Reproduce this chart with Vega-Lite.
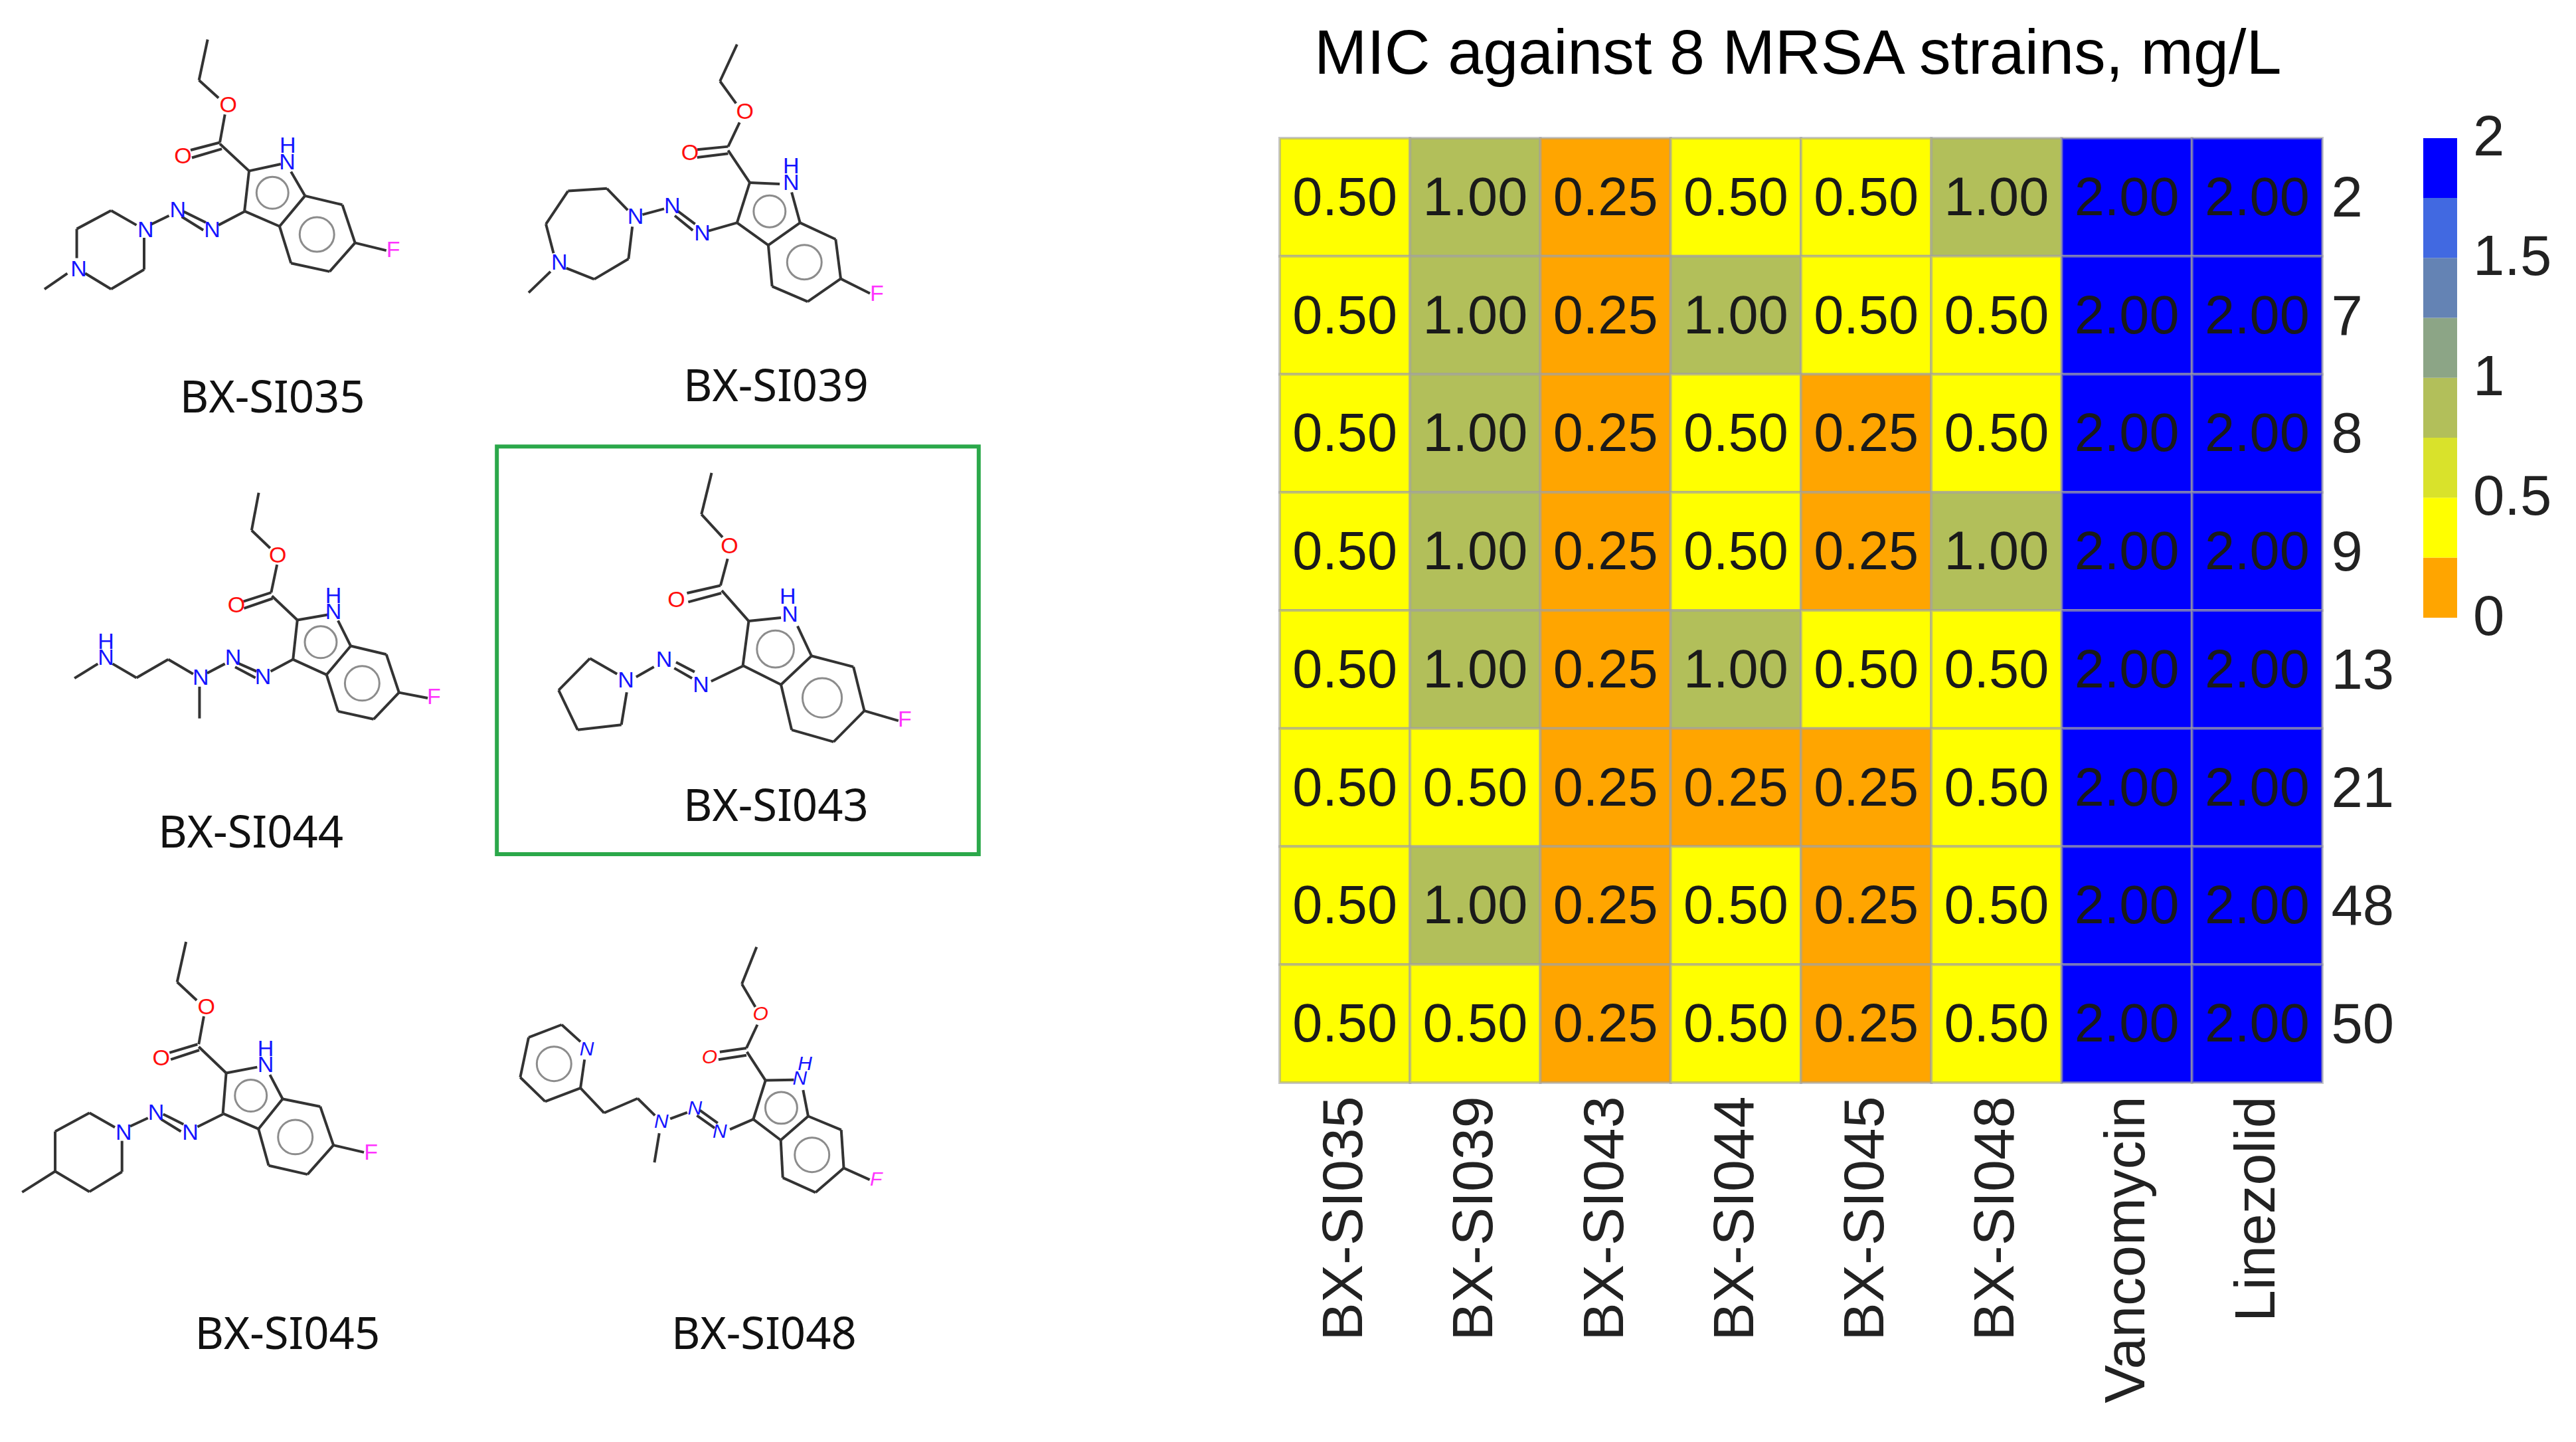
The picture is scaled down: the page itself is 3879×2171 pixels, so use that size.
{
"$schema":"https://vega.github.io/schema/vega-lite/v6.json",
"background":"white",
"padding":{"left":0,"top":34,"right":0,"bottom":0},
"spacing":0,
"config":{"view":{"stroke":null},"concat":{"spacing":0}},
"datasets":{
"bonds":[
{"x":817,"y":150,"x2":783,"y2":310},{"x":783,"y":310,"x2":860,"y2":380},{"x":885,"y":445,"x2":865,"y2":555},{"x":865,"y":555,"x2":750,"y2":585},{"x":873,"y":580,"x2":755,"y2":615},{"x":865,"y":560,"x2":980,"y2":667},{"x":980,"y":667,"x2":1105,"y2":640},{"x":1145,"y":670,"x2":1200,"y2":765},{"x":980,"y":667,"x2":962,"y2":825},{"x":962,"y":825,"x2":1100,"y2":885},{"x":1100,"y":885,"x2":1200,"y2":765},{"x":1200,"y":765,"x2":1347,"y2":800},{"x":1347,"y":800,"x2":1397,"y2":950},{"x":1397,"y":950,"x2":1297,"y2":1063},{"x":1297,"y":1063,"x2":1145,"y2":1030},{"x":1145,"y":1030,"x2":1100,"y2":885},{"x":1397,"y":950,"x2":1520,"y2":980},{"x":962,"y":827,"x2":860,"y2":880},{"x":723,"y":827,"x2":810,"y2":870},{"x":715,"y":847,"x2":800,"y2":900},{"x":665,"y":843,"x2":595,"y2":877},{"x":537,"y":880,"x2":437,"y2":823},{"x":437,"y":823,"x2":302,"y2":895},{"x":302,"y":895,"x2":302,"y2":1010},{"x":335,"y":1070,"x2":437,"y2":1132},{"x":437,"y":1132,"x2":567,"y2":1055},{"x":567,"y":1055,"x2":567,"y2":930},{"x":265,"y":1070,"x2":175,"y2":1132},
{"x":2900,"y":169,"x2":2833,"y2":314},{"x":2833,"y":314,"x2":2896,"y2":401},{"x":2910,"y":476,"x2":2865,"y2":571},{"x":2865,"y":571,"x2":2743,"y2":583},{"x":2865,"y":599,"x2":2743,"y2":614},{"x":2865,"y":586,"x2":2950,"y2":713},{"x":2950,"y":713,"x2":3068,"y2":718},{"x":3115,"y":751,"x2":3148,"y2":871},{"x":2950,"y":713,"x2":2900,"y2":871},{"x":2900,"y":871,"x2":3023,"y2":959},{"x":3023,"y":959,"x2":3148,"y2":871},{"x":3148,"y":871,"x2":3288,"y2":936},{"x":3288,"y":936,"x2":3308,"y2":1091},{"x":3308,"y":1091,"x2":3178,"y2":1181},{"x":3178,"y":1181,"x2":3038,"y2":1121},{"x":3038,"y":1121,"x2":3023,"y2":959},{"x":3308,"y":1091,"x2":3423,"y2":1149},{"x":2900,"y":871,"x2":2788,"y2":903},{"x":2668,"y":826,"x2":2735,"y2":876},{"x":2655,"y":843,"x2":2726,"y2":901},{"x":2613,"y":816,"x2":2528,"y2":839},{"x":2470,"y":821,"x2":2388,"y2":736},{"x":2388,"y":736,"x2":2235,"y2":746},{"x":2235,"y":746,"x2":2148,"y2":876},{"x":2148,"y":876,"x2":2178,"y2":991},{"x":2228,"y":1049,"x2":2338,"y2":1093},{"x":2338,"y":1093,"x2":2473,"y2":1013},{"x":2473,"y":1013,"x2":2488,"y2":886},{"x":2166,"y":1063,"x2":2080,"y2":1146},
{"x":1018,"y":1933,"x2":990,"y2":2081},{"x":990,"y":2081,"x2":1063,"y2":2151},{"x":1090,"y":2216,"x2":1067,"y2":2326},{"x":1067,"y":2326,"x2":957,"y2":2361},{"x":1073,"y":2349,"x2":960,"y2":2388},{"x":1070,"y":2339,"x2":1170,"y2":2434},{"x":1170,"y":2434,"x2":1290,"y2":2413},{"x":1330,"y":2436,"x2":1380,"y2":2536},{"x":1170,"y":2434,"x2":1153,"y2":2589},{"x":1153,"y":2589,"x2":1285,"y2":2649},{"x":1285,"y":2649,"x2":1380,"y2":2536},{"x":1380,"y":2536,"x2":1520,"y2":2569},{"x":1520,"y":2569,"x2":1570,"y2":2719},{"x":1570,"y":2719,"x2":1470,"y2":2824},{"x":1470,"y":2824,"x2":1330,"y2":2793},{"x":1330,"y":2793,"x2":1285,"y2":2649},{"x":1570,"y":2719,"x2":1683,"y2":2741},{"x":1153,"y":2589,"x2":1065,"y2":2636},{"x":930,"y":2601,"x2":1010,"y2":2636},{"x":925,"y":2619,"x2":1005,"y2":2661},{"x":885,"y":2606,"x2":815,"y2":2643},{"x":760,"y":2646,"x2":662,"y2":2589},{"x":662,"y":2589,"x2":537,"y2":2661},{"x":537,"y":2661,"x2":443,"y2":2606},{"x":385,"y":2606,"x2":293,"y2":2663},{"x":785,"y":2696,"x2":785,"y2":2821},
{"x":2800,"y":1855,"x2":2760,"y2":2018},{"x":2760,"y":2018,"x2":2843,"y2":2108},{"x":2863,"y":2193,"x2":2835,"y2":2298},{"x":2835,"y":2298,"x2":2703,"y2":2328},{"x":2838,"y":2328,"x2":2708,"y2":2363},{"x":2840,"y":2318,"x2":2946,"y2":2438},{"x":2946,"y":2438,"x2":3073,"y2":2425},{"x":3138,"y":2458,"x2":3193,"y2":2575},{"x":2946,"y":2438,"x2":2923,"y2":2613},{"x":2923,"y":2613,"x2":3073,"y2":2688},{"x":3073,"y":2688,"x2":3193,"y2":2575},{"x":3193,"y":2575,"x2":3358,"y2":2618},{"x":3358,"y":2618,"x2":3401,"y2":2791},{"x":3401,"y":2791,"x2":3280,"y2":2913},{"x":3280,"y":2913,"x2":3115,"y2":2866},{"x":3115,"y":2866,"x2":3073,"y2":2688},{"x":3401,"y":2791,"x2":3535,"y2":2830},{"x":2923,"y":2615,"x2":2798,"y2":2675},{"x":2660,"y":2600,"x2":2733,"y2":2638},{"x":2653,"y":2623,"x2":2723,"y2":2663},{"x":2573,"y":2618,"x2":2503,"y2":2658},{"x":2428,"y":2646,"x2":2321,"y2":2585},{"x":2321,"y":2585,"x2":2198,"y2":2710},{"x":2198,"y":2710,"x2":2273,"y2":2866},{"x":2273,"y":2866,"x2":2445,"y2":2846},{"x":2445,"y":2846,"x2":2466,"y2":2718},
{"x":732,"y":3700,"x2":697,"y2":3858},{"x":697,"y":3858,"x2":774,"y2":3930},{"x":802,"y":3993,"x2":782,"y2":4103},{"x":777,"y":4103,"x2":667,"y2":4136},{"x":784,"y":4126,"x2":672,"y2":4163},{"x":782,"y":4113,"x2":890,"y2":4216},{"x":890,"y":4216,"x2":1012,"y2":4193},{"x":1062,"y":4223,"x2":1112,"y2":4318},{"x":890,"y":4216,"x2":877,"y2":4375},{"x":877,"y":4375,"x2":1017,"y2":4436},{"x":1017,"y":4436,"x2":1112,"y2":4318},{"x":1112,"y":4318,"x2":1260,"y2":4348},{"x":1260,"y":4348,"x2":1312,"y2":4500},{"x":1312,"y":4500,"x2":1210,"y2":4615},{"x":1210,"y":4615,"x2":1057,"y2":4580},{"x":1057,"y":4580,"x2":1017,"y2":4436},{"x":1312,"y":4500,"x2":1432,"y2":4528},{"x":877,"y":4378,"x2":777,"y2":4428},{"x":642,"y":4378,"x2":722,"y2":4418},{"x":634,"y":4398,"x2":712,"y2":4446},{"x":582,"y":4393,"x2":512,"y2":4426},{"x":452,"y":4430,"x2":352,"y2":4373},{"x":352,"y":4373,"x2":217,"y2":4446},{"x":217,"y":4446,"x2":217,"y2":4603},{"x":217,"y":4603,"x2":352,"y2":4683},{"x":352,"y":4683,"x2":480,"y2":4605},{"x":480,"y":4605,"x2":480,"y2":4483},{"x":217,"y":4603,"x2":87,"y2":4685},
{"x":2977,"y":3720,"x2":2919,"y2":3866},{"x":2919,"y":3866,"x2":2972,"y2":3956},{"x":2980,"y":4026,"x2":2937,"y2":4118},{"x":2937,"y":4118,"x2":2832,"y2":4133},{"x":2937,"y":4146,"x2":2827,"y2":4163},{"x":2939,"y":4133,"x2":3012,"y2":4245},{"x":3012,"y":4245,"x2":3124,"y2":4243},{"x":3160,"y":4283,"x2":3180,"y2":4386},{"x":3012,"y":4245,"x2":2964,"y2":4398},{"x":2964,"y":4398,"x2":3072,"y2":4480},{"x":3072,"y":4480,"x2":3180,"y2":4386},{"x":3180,"y":4386,"x2":3310,"y2":4440},{"x":3310,"y":4440,"x2":3320,"y2":4590},{"x":3320,"y":4590,"x2":3209,"y2":4686},{"x":3209,"y":4686,"x2":3080,"y2":4628},{"x":3080,"y":4628,"x2":3072,"y2":4480},{"x":3320,"y":4590,"x2":3422,"y2":4636},{"x":2964,"y":4398,"x2":2872,"y2":4438},{"x":2754,"y":4363,"x2":2824,"y2":4413},{"x":2742,"y":4383,"x2":2812,"y2":4433},{"x":2704,"y":4371,"x2":2637,"y2":4396},{"x":2577,"y":4383,"x2":2509,"y2":4316},{"x":2509,"y":4316,"x2":2377,"y2":4373},{"x":2377,"y":4373,"x2":2284,"y2":4275},{"x":2284,"y":4275,"x2":2300,"y2":4163},{"x":2284,"y":4093,"x2":2210,"y2":4026},{"x":2210,"y":4026,"x2":2080,"y2":4076},{"x":2080,"y":4076,"x2":2047,"y2":4233},{"x":2047,"y":4233,"x2":2145,"y2":4328},{"x":2145,"y":4328,"x2":2284,"y2":4275},{"x":2594,"y":4453,"x2":2575,"y2":4568}
],
"atoms":[
{"m":"BX-SI035","a":"O","x":898,"y":410},{"m":"BX-SI035","a":"O","x":720,"y":610},{"m":"BX-SI035","a":"N","x":1130,"y":635},{"m":"BX-SI035","a":"H","x":1132,"y":570},{"m":"BX-SI035","a":"F","x":1547,"y":980},{"m":"BX-SI035","a":"N","x":835,"y":902},{"m":"BX-SI035","a":"N","x":700,"y":822},{"m":"BX-SI035","a":"N","x":573,"y":902},{"m":"BX-SI035","a":"N","x":310,"y":1055},
{"m":"BX-SI039","a":"O","x":2931,"y":436},{"m":"BX-SI039","a":"O","x":2715,"y":598},{"m":"BX-SI039","a":"N","x":3113,"y":716},{"m":"BX-SI039","a":"H","x":3113,"y":651},{"m":"BX-SI039","a":"F","x":3450,"y":1151},{"m":"BX-SI039","a":"N","x":2763,"y":913},{"m":"BX-SI039","a":"N","x":2645,"y":806},{"m":"BX-SI039","a":"N","x":2501,"y":849},{"m":"BX-SI039","a":"N","x":2201,"y":1028},
{"m":"BX-SI044","a":"O","x":1093,"y":2183},{"m":"BX-SI044","a":"O","x":930,"y":2378},{"m":"BX-SI044","a":"N","x":1312,"y":2403},{"m":"BX-SI044","a":"H","x":1312,"y":2341},{"m":"BX-SI044","a":"F","x":1707,"y":2739},{"m":"BX-SI044","a":"N","x":1035,"y":2661},{"m":"BX-SI044","a":"N","x":917,"y":2584},{"m":"BX-SI044","a":"N","x":790,"y":2663},{"m":"BX-SI044","a":"N","x":417,"y":2583},{"m":"BX-SI044","a":"H","x":417,"y":2521},
{"m":"BX-SI043","a":"O","x":2870,"y":2146},{"m":"BX-SI043","a":"O","x":2661,"y":2358},{"m":"BX-SI043","a":"N","x":3108,"y":2415},{"m":"BX-SI043","a":"H","x":3100,"y":2343},{"m":"BX-SI043","a":"F","x":3560,"y":2828},{"m":"BX-SI043","a":"N","x":2758,"y":2690},{"m":"BX-SI043","a":"N","x":2613,"y":2593},{"m":"BX-SI043","a":"N","x":2463,"y":2673},
{"m":"BX-SI045","a":"O","x":812,"y":3958},{"m":"BX-SI045","a":"O","x":634,"y":4160},{"m":"BX-SI045","a":"N","x":1045,"y":4186},{"m":"BX-SI045","a":"H","x":1045,"y":4123},{"m":"BX-SI045","a":"F","x":1460,"y":4531},{"m":"BX-SI045","a":"N","x":749,"y":4453},{"m":"BX-SI045","a":"N","x":614,"y":4373},{"m":"BX-SI045","a":"N","x":487,"y":4453},
{"m":"BX-SI048","a":"O","x":2992,"y":3986},{"m":"BX-SI048","a":"O","x":2792,"y":4155},{"m":"BX-SI048","a":"N","x":3147,"y":4238},{"m":"BX-SI048","a":"H","x":3167,"y":4180},{"m":"BX-SI048","a":"F","x":3447,"y":4636},{"m":"BX-SI048","a":"N","x":2832,"y":4448},{"m":"BX-SI048","a":"N","x":2734,"y":4355},{"m":"BX-SI048","a":"N","x":2602,"y":4408},{"m":"BX-SI048","a":"N","x":2309,"y":4123}
],
"rings":[
{"r":"five","x":1072,"y":753},{"r":"six","x":1247,"y":917},
{"r":"five","x":3028,"y":826},{"r":"six","x":3165,"y":1026},
{"r":"five","x":1262,"y":2521},{"r":"six","x":1425,"y":2683},
{"r":"five large","x":3051,"y":2548},{"r":"six large","x":3235,"y":2740},
{"r":"five","x":987,"y":4305},{"r":"six","x":1162,"y":4468},
{"r":"five","x":3074,"y":4353},{"r":"six","x":3195,"y":4538},{"r":"six","x":2180,"y":4180}
],
"names":[
{"t":"BX-SI035","x":1072,"y":1565},{"t":"BX-SI039","x":3053,"y":1521},{"t":"BX-SI044","x":987,"y":3276},{"t":"BX-SI043","x":3053,"y":3173},{"t":"BX-SI045","x":1131,"y":5249},{"t":"BX-SI048","x":3006,"y":5249}
],
"frame":[{"x":1955,"y":1751,"x2":3851,"y2":3355}],
"mic":[
{"s":2,"c":"BX-SI035","v":0.5},{"s":2,"c":"BX-SI039","v":1},{"s":2,"c":"BX-SI043","v":0.25},{"s":2,"c":"BX-SI044","v":0.5},{"s":2,"c":"BX-SI045","v":0.5},{"s":2,"c":"BX-SI048","v":1},{"s":2,"c":"Vancomycin","v":2},{"s":2,"c":"Linezolid","v":2},
{"s":7,"c":"BX-SI035","v":0.5},{"s":7,"c":"BX-SI039","v":1},{"s":7,"c":"BX-SI043","v":0.25},{"s":7,"c":"BX-SI044","v":1},{"s":7,"c":"BX-SI045","v":0.5},{"s":7,"c":"BX-SI048","v":0.5},{"s":7,"c":"Vancomycin","v":2},{"s":7,"c":"Linezolid","v":2},
{"s":8,"c":"BX-SI035","v":0.5},{"s":8,"c":"BX-SI039","v":1},{"s":8,"c":"BX-SI043","v":0.25},{"s":8,"c":"BX-SI044","v":0.5},{"s":8,"c":"BX-SI045","v":0.25},{"s":8,"c":"BX-SI048","v":0.5},{"s":8,"c":"Vancomycin","v":2},{"s":8,"c":"Linezolid","v":2},
{"s":9,"c":"BX-SI035","v":0.5},{"s":9,"c":"BX-SI039","v":1},{"s":9,"c":"BX-SI043","v":0.25},{"s":9,"c":"BX-SI044","v":0.5},{"s":9,"c":"BX-SI045","v":0.25},{"s":9,"c":"BX-SI048","v":1},{"s":9,"c":"Vancomycin","v":2},{"s":9,"c":"Linezolid","v":2},
{"s":13,"c":"BX-SI035","v":0.5},{"s":13,"c":"BX-SI039","v":1},{"s":13,"c":"BX-SI043","v":0.25},{"s":13,"c":"BX-SI044","v":1},{"s":13,"c":"BX-SI045","v":0.5},{"s":13,"c":"BX-SI048","v":0.5},{"s":13,"c":"Vancomycin","v":2},{"s":13,"c":"Linezolid","v":2},
{"s":21,"c":"BX-SI035","v":0.5},{"s":21,"c":"BX-SI039","v":0.5},{"s":21,"c":"BX-SI043","v":0.25},{"s":21,"c":"BX-SI044","v":0.25},{"s":21,"c":"BX-SI045","v":0.25},{"s":21,"c":"BX-SI048","v":0.5},{"s":21,"c":"Vancomycin","v":2},{"s":21,"c":"Linezolid","v":2},
{"s":48,"c":"BX-SI035","v":0.5},{"s":48,"c":"BX-SI039","v":1},{"s":48,"c":"BX-SI043","v":0.25},{"s":48,"c":"BX-SI044","v":0.5},{"s":48,"c":"BX-SI045","v":0.25},{"s":48,"c":"BX-SI048","v":0.5},{"s":48,"c":"Vancomycin","v":2},{"s":48,"c":"Linezolid","v":2},
{"s":50,"c":"BX-SI035","v":0.5},{"s":50,"c":"BX-SI039","v":0.5},{"s":50,"c":"BX-SI043","v":0.25},{"s":50,"c":"BX-SI044","v":0.5},{"s":50,"c":"BX-SI045","v":0.25},{"s":50,"c":"BX-SI048","v":0.5},{"s":50,"c":"Vancomycin","v":2},{"s":50,"c":"Linezolid","v":2}
]
},
"hconcat":[
{
"width":1925,"height":1965,
"layer":[
{"data":{"name":"frame"},"mark":{"type":"rect","fill":null,"stroke":"#2BA84A","strokeWidth":6},
 "encoding":{"x":{"field":"x","type":"quantitative","scale":{"domain":[0,5030],"nice":false,"zero":false},"axis":null},"y":{"field":"y","type":"quantitative","scale":{"domain":[538,5673],"reverse":true,"nice":false,"zero":false},"axis":null},"x2":{"field":"x2"},"y2":{"field":"y2"}}},
{"data":{"name":"bonds"},"mark":{"type":"rule","color":"#333333","strokeWidth":4},
 "encoding":{"x":{"field":"x","type":"quantitative"},"y":{"field":"y","type":"quantitative"},"x2":{"field":"x2"},"y2":{"field":"y2"}}},
{"data":{"name":"rings"},"mark":{"type":"point","shape":"circle","filled":false,"stroke":"#8c8c8c","strokeWidth":3,"opacity":1},
 "encoding":{"x":{"field":"x","type":"quantitative"},"y":{"field":"y","type":"quantitative"},
  "size":{"field":"r","type":"nominal","legend":null,"scale":{"domain":["five","six","five large","six large"],"range":[2300,3500,2900,4300]}}}},
{"data":{"name":"atoms"},"transform":[{"filter":"datum.m !== 'BX-SI048'"}],"mark":{"type":"text","font":"Liberation Sans","fontSize":34,"baseline":"middle","align":"center"},
 "encoding":{"x":{"field":"x","type":"quantitative"},"y":{"field":"y","type":"quantitative"},"text":{"field":"a"},
  "color":{"field":"a","type":"nominal","legend":null,"scale":{"domain":["N","H","O","F"],"range":["#1414FF","#1414FF","#FF0D0D","#FF33FF"]}}}},
{"data":{"name":"atoms"},"transform":[{"filter":"datum.m === 'BX-SI048'"}],"mark":{"type":"text","font":"Liberation Sans","fontSize":30,"fontStyle":"italic","baseline":"middle","align":"center"},
 "encoding":{"x":{"field":"x","type":"quantitative"},"y":{"field":"y","type":"quantitative"},"text":{"field":"a"},
  "color":{"field":"a","type":"nominal","legend":null,"scale":{"domain":["N","H","O","F"],"range":["#1414FF","#1414FF","#FF0D0D","#FF33FF"]}}}},
{"data":{"name":"names"},"mark":{"type":"text","font":"Noto Sans","fontSize":67,"color":"#111111","baseline":"middle","align":"center"},
 "encoding":{"x":{"field":"x","type":"quantitative"},"y":{"field":"y","type":"quantitative"},"text":{"field":"t"}}}
]
},
{
"width":1570,"height":1422,
"title":{"text":"MIC against 8 MRSA strains, mg/L","font":"Liberation Sans","fontSize":95.3,"fontWeight":"normal","color":"#000000","anchor":"start","frame":"group","dx":52,"offset":75},
"data":{"name":"mic"},
"encoding":{
 "x":{"field":"c","type":"nominal","sort":["BX-SI035","BX-SI039","BX-SI043","BX-SI044","BX-SI045","BX-SI048","Vancomycin","Linezolid"],
  "scale":{"paddingInner":0,"paddingOuter":0},
  "axis":{"title":null,"orient":"bottom","domain":false,"ticks":false,"labelAngle":-90,"labelAlign":"right","labelBaseline":"middle","labelFont":"Liberation Sans","labelFontSize":86,"labelColor":"#222222","labelPadding":20,"labelOverlap":false,"labelFlush":false,"labelLimit":900}},
 "y":{"field":"s","type":"ordinal","sort":"ascending",
  "scale":{"paddingInner":0,"paddingOuter":0},
  "axis":{"title":null,"orient":"right","domain":false,"ticks":false,"labelFont":"Liberation Sans","labelFontSize":85,"labelColor":"#222222","labelPadding":13,"labelOffset":3,"labelOverlap":false,"labelFlush":false}}
},
"layer":[
{"mark":{"type":"rect","stroke":"#a0a0a0","strokeOpacity":0.6,"strokeWidth":4},
 "encoding":{"color":{"field":"v","type":"quantitative",
  "scale":{"type":"quantize","domain":[0.001,2.001],"range":["#FFA500","#FFFF00","#D9E22B","#B2BF5A","#8CA586","#6483B4","#4169E1","#0000FF"]},
  "legend":{"title":null,"orient":"none","legendX":1722,"legendY":0,"type":"gradient","direction":"vertical","gradientLength":722,"gradientThickness":51,"gradientStrokeWidth":0,"values":[0.001,0.252,0.502,0.752,1.002,1.252,1.502,1.752,2.001],"labelExpr":"datum.value===0.001?'0':datum.value===0.502?'0.5':datum.value===1.002?'1':datum.value===1.502?'1.5':datum.value===2.001?'2':''","labelFont":"Liberation Sans","labelFontSize":85,"labelColor":"#222222","labelOffset":24,"labelOverlap":false,
   "encode":{"labels":{"update":{"baseline":{"value":"middle"}}}}}}}},
{"mark":{"type":"text","font":"Liberation Sans","fontSize":81,"color":"#1a1a1a","baseline":"middle","align":"center","dy":3},
 "encoding":{"text":{"field":"v","type":"quantitative","format":".2f"}}}
]
}
]
}
